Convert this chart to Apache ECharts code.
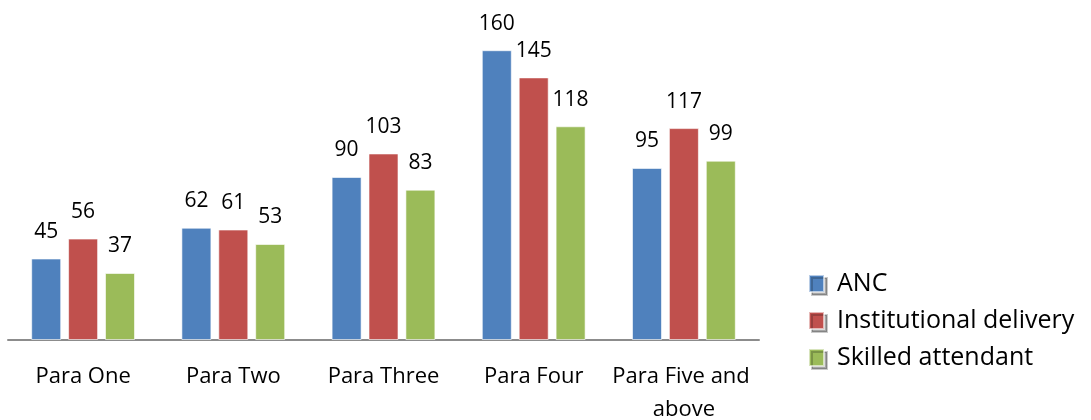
<!DOCTYPE html>
<html>
<head>
<meta charset="utf-8">
<script src="https://cdn.jsdelivr.net/npm/echarts@6/dist/echarts.min.js"></script>
<style>
  html, body { margin: 0; padding: 0; background: #fff; }
  #chart { width: 1091px; height: 420px; }
</style>
</head>
<body>
<div id="chart"></div>
<script>
// Categories and series values
const categories = ['Para One', 'Para Two', 'Para Three', 'Para Four', 'Para Five and above'];
const seriesNames = ['ANC', 'Institutional delivery', 'Skilled attendant'];
const ancValues = [45, 62, 90, 160, 95];
const institutionalValues = [56, 61, 103, 145, 117];
const skilledValues = [37, 53, 83, 118, 99];

const colors = ['#4F81BD', '#C0504D', '#9BBB59'];
const fontFamily = '"Open Sans", Lato, sans-serif';

function barSeries(name, data, color) {
  return {
    name: name,
    type: 'bar',
    data: data,
    barWidth: 30,
    barGap: '23%',
    itemStyle: { color: color, borderColor: 'rgba(255,255,255,0.6)', borderWidth: 1 },
    label: {
      show: true,
      position: 'top',
      distance: 16,
      color: '#000',
      fontSize: 21,
      fontFamily: fontFamily
    }
  };
}

const chart = echarts.init(document.getElementById('chart'), null, { renderer: 'canvas' });
chart.setOption({
  animation: false,
  color: colors,
  grid: { left: 8, right: 332, top: 14, bottom: 80, outerBoundsMode: 'none', containLabel: false },
  legend: {
    orient: 'vertical',
    left: 803,
    top: 266,
    padding: 5,
    itemWidth: 15,
    itemHeight: 17,
    itemGap: 12,
    icon: 'rect',
    data: seriesNames,
    textStyle: { fontSize: 25, lineHeight: 24, color: '#000', fontFamily: fontFamily, padding: [0, 0, 0, 8] },
    itemStyle: { shadowColor: 'rgba(0,0,0,0.35)', shadowOffsetX: 3, shadowOffsetY: 3, shadowBlur: 0 }
  },
  xAxis: {
    type: 'category',
    data: categories,
    axisLine: { lineStyle: { color: '#8c8c8c', width: 2 } },
    axisTick: { show: false },
    axisLabel: {
      color: '#000',
      fontSize: 22,
      fontFamily: fontFamily,
      margin: 20,
      lineHeight: 33,
      width: 148,
      overflow: 'break',
      interval: 0
    }
  },
  yAxis: {
    type: 'value',
    min: 0,
    max: 180,
    show: false
  },
  series: [
    barSeries(seriesNames[0], ancValues, colors[0]),
    barSeries(seriesNames[1], institutionalValues, colors[1]),
    barSeries(seriesNames[2], skilledValues, colors[2])
  ]
});
</script>
</body>
</html>
